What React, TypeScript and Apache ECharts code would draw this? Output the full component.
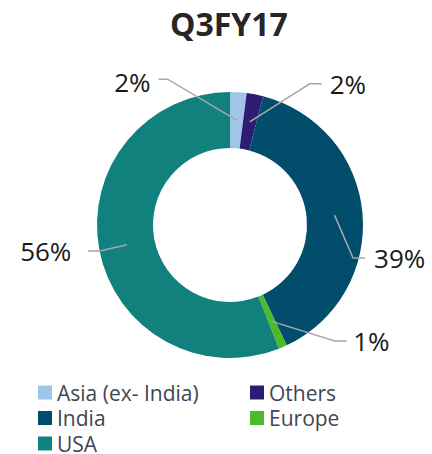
import React, { useEffect, useRef } from "react";
import * as echarts from "echarts";

const categories = ["Asia (ex- India)", "Others", "India", "Europe", "USA"];
const shares = [2, 2, 39, 1, 56];
const colors = ["#9fc5e8", "#2d1b74", "#034d6c", "#4cbb2a", "#11817e"];
const legendLeftColumn = ["Asia (ex- India)", "India", "USA"];
const legendRightColumn = ["Others", "Europe"];
const chartTitle = "Q3FY17";

// label guide geometry (relative to the line start the library computes)
const LABEL_GUIDES = [
  { elbow: [-69, -41], run: -9, gap: -8, dy: 2.5 },
  { elbow: [60, -38], run: 12, gap: 8, dy: 0 },
  { elbow: [18.5, 43], run: 12, gap: 9, dy: -0.5 },
  { elbow: [63, 19.6], run: 12, gap: 6.5, dy: 0.5 },
  { elbow: [-27, 6.3], run: -12, gap: -16.5, dy: 0 },
];

const FONT = "'Open Sans', 'Noto Sans', sans-serif";

export default function App() {
  const ref = useRef<HTMLDivElement>(null);
  useEffect(() => {
    document.body.style.margin = "0";
    const chart = echarts.init(ref.current!, null, { renderer: "svg" });
    const data = categories.map((name, i) => ({
      name,
      value: shares[i],
      itemStyle: { color: colors[i] },
    }));
    const legendCommon = {
      orient: "vertical" as const,
      top: 382,
      height: 120,
      padding: 0,
      itemWidth: 14,
      itemHeight: 14,
      itemGap: 4.5,
      icon: "rect",
      selectedMode: false,
      textStyle: { fontFamily: FONT, fontSize: 21, lineHeight: 21, color: "#3f4652" },
    };
    chart.setOption({
      animation: false,
      backgroundColor: "#ffffff",
      title: {
        text: chartTitle,
        left: 170,
        top: 7,
        padding: 0,
        textStyle: { fontFamily: FONT, fontSize: 32, fontWeight: "bold", color: "#262626" },
      },
      legend: [
        { ...legendCommon, left: 38, data: legendLeftColumn },
        { ...legendCommon, left: 250, data: legendRightColumn },
      ],
      series: [
        {
          type: "pie",
          z: 2,
          center: [230, 225],
          radius: [77, 133],
          startAngle: 90,
          clockwise: true,
          silent: true,
          label: { show: false },
          labelLine: { show: false },
          emphasis: { disabled: true },
          data,
        },
        {
          type: "pie",
          z: 5,
          center: [230, 225],
          radius: [0, 105],
          startAngle: 90,
          clockwise: true,
          silent: true,
          avoidLabelOverlap: false,
          itemStyle: { color: "rgba(0,0,0,0)" },
          emphasis: { disabled: true },
          label: {
            show: true,
            position: "outside",
            formatter: "{c}%",
            fontFamily: FONT,
            fontSize: 26,
            lineHeight: 26,
            color: "#1a1a1a",
          },
          labelLine: {
            show: true,
            length: 20,
            length2: 10,
            lineStyle: { color: "#a8a8a8", width: 1.5 },
          },
          labelLayout: (params: any) => {
            const g = LABEL_GUIDES[params.dataIndex];
            const p0 = params.labelLinePoints
              ? params.labelLinePoints[0]
              : [params.rect.x, params.rect.y];
            const elbow = [p0[0] + g.elbow[0], p0[1] + g.elbow[1]];
            const end = [elbow[0] + g.run, elbow[1]];
            return {
              x: end[0] + g.gap,
              y: end[1] + g.dy,
              align: g.gap < 0 ? "right" : "left",
              verticalAlign: "middle",
              labelLinePoints: [p0, elbow, end],
            };
          },
          data: categories.map((name, i) => ({ name, value: shares[i] })),
        },
      ],
    });
    return () => chart.dispose();
  }, []);
  return <div ref={ref} style={{ width: 432, height: 454 }} />;
}
